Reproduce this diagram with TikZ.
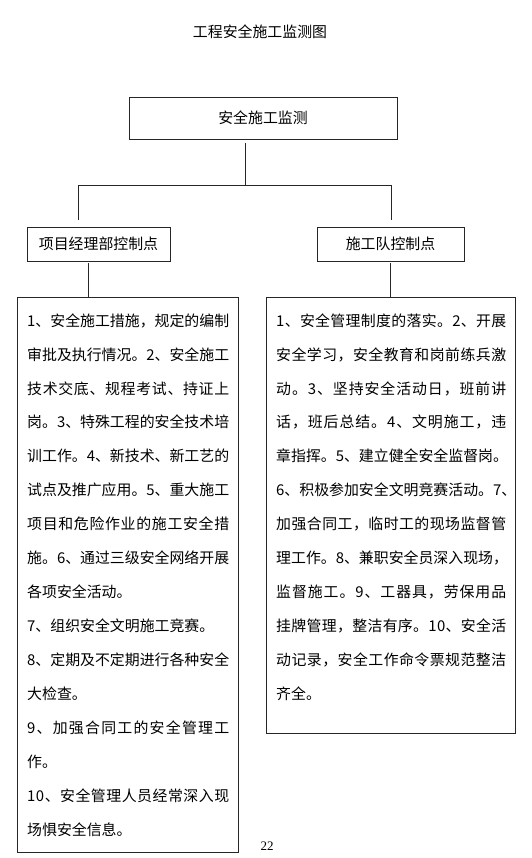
\documentclass[tikz,border=0pt]{standalone}
\usepackage{fontspec}
\setmainfont{Noto Sans CJK SC}
\newfontfamily\numfont{Liberation Serif}
\usetikzlibrary{calc}
\tikzset{
  frame/.style={draw=black!85, line width=0.8pt, inner sep=0pt, font=\fontsize{14.9}{16}\selectfont},
  conn/.style={draw=black!85, line width=0.8pt},
  txt/.style={anchor=west, inner sep=0pt, font=\fontsize{14.9}{16}\selectfont},
}
\makeatletter
\def\sp@read#1{\ifx#1\relax\else#1\hskip0pt plus1fil\expandafter\sp@read\fi}
\newcommand{\jl}[2]{\makebox[#1][s]{\sp@read#2\relax\unskip}}
\makeatother
\begin{document}
\begin{tikzpicture}[x=1pt,y=-1pt]
\useasboundingbox[fill=white] (0,0) rectangle (531,858);
\node[txt, anchor=center] (title) at (260,32) {工程安全施工监测图};
\node[frame, minimum width=268pt, minimum height=42pt] (top) at (263,118) {安全施工监测};
\node[frame, minimum width=143pt, minimum height=34pt] (lbox) at (98.5,244) {项目经理部控制点};
\node[frame, minimum width=147pt, minimum height=34pt] (rbox) at (390.5,244) {施工队控制点};
\node[frame, minimum width=221pt, minimum height=555pt] (lbig) at (127.5,574.5) {};
\node[frame, minimum width=249pt, minimum height=436pt] (rbig) at (390.5,515) {};
\coordinate (j) at (245,185);
\coordinate (jl) at (78,185);
\coordinate (jr) at (391,185);
\coordinate (ls) at (88,297);
\coordinate (rs) at (390,297);
\draw[conn, shorten <=4pt] (top.south -| j) -- (j);
\draw[conn] (jl) -- (jr);
\draw[conn, shorten >=7pt] (jl) -- (jl |- lbox.north);
\draw[conn, shorten >=7pt] (jr) -- (jr |- rbox.north);
\draw[conn, shorten <=2pt] (lbox.south -| ls) -- (lbig.north -| ls);
\draw[conn, shorten <=2pt] (rbox.south -| rs) -- (rbig.north -| rs);
% left text
\def\lw{202pt}
\node[txt] (l1) at (27,321) {\jl{\lw}{1、安全施工措施，规定的编制}};
\node[txt] (l2) at (27,355) {\jl{\lw}{审批及执行情况。2、安全施工}};
\node[txt] (l3) at (27,389) {\jl{\lw}{技术交底、规程考试、持证上}};
\node[txt] (l4) at (27,422) {\jl{\lw}{岗。3、特殊工程的安全技术培}};
\node[txt] (l5) at (27,456) {\jl{\lw}{训工作。4、新技术、新工艺的}};
\node[txt] (l6) at (27,490) {\jl{\lw}{试点及推广应用。5、重大施工}};
\node[txt] (l7) at (27,524) {\jl{\lw}{项目和危险作业的施工安全措}};
\node[txt] (l8) at (27,558) {\jl{\lw}{施。6、通过三级安全网络开展}};
\node[txt] (l9) at (27,592) {各项安全活动。};
\node[txt] (l10) at (27,626) {7、组织安全文明施工竞赛。};
\node[txt] (l11) at (27,660) {\jl{\lw}{8、定期及不定期进行各种安全}};
\node[txt] (l12) at (27,694) {大检查。};
\node[txt] (l13) at (27,728) {\jl{\lw}{9、加强合同工的安全管理工}};
\node[txt] (l14) at (27,762) {作。};
\node[txt] (l15) at (27,796) {\jl{\lw}{10、安全管理人员经常深入现}};
\node[txt] (l16) at (27,830) {场惧安全信息。};
% right text
\def\rw{230pt}
\node[txt] (r1) at (276,321) {\jl{\rw}{1、安全管理制度的落实。2、开展}};
\node[txt] (r2) at (276,355) {\jl{\rw}{安全学习，安全教育和岗前练兵激}};
\node[txt] (r3) at (276,389) {\jl{\rw}{动。3、坚持安全活动日，班前讲}};
\node[txt] (r4) at (276,422) {\jl{\rw}{话，班后总结。4、文明施工，违}};
\node[txt] (r5) at (276,456) {\jl{\rw}{章指挥。5、建立健全安全监督岗。}};
\node[txt] (r6) at (276,490) {\jl{\rw}{6、积极参加安全文明竞赛活动。7、}};
\node[txt] (r7) at (276,524) {\jl{\rw}{加强合同工，临时工的现场监督管}};
\node[txt] (r8) at (276,558) {\jl{\rw}{理工作。8、兼职安全员深入现场，}};
\node[txt] (r9) at (276,592) {\jl{\rw}{监督施工。9、工器具，劳保用品}};
\node[txt] (r10) at (276,626) {\jl{\rw}{挂牌管理，整洁有序。10、安全活}};
\node[txt] (r11) at (276,660) {\jl{\rw}{动记录，安全工作命令票规范整洁}};
\node[txt] (r12) at (276,694) {齐全。};
\node[anchor=center, inner sep=0pt, font=\numfont\fontsize{13}{14}\selectfont] (page) at (267,846) {22};
\end{tikzpicture}
\end{document}
